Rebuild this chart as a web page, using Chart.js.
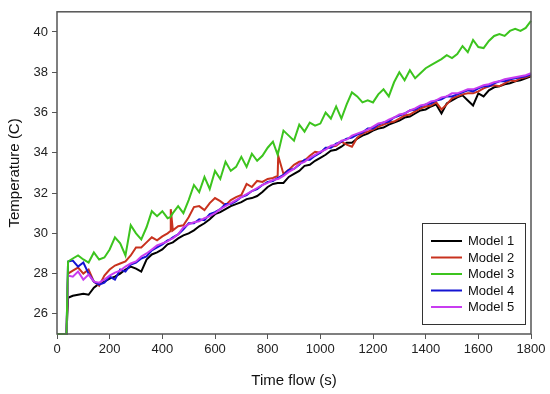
<!DOCTYPE html>
<html>
<head>
<meta charset="utf-8">
<script src="https://cdn.jsdelivr.net/npm/chart.js@4"></script>
<style>
  html, body { margin: 0; padding: 0; background: #fff; }
  #wrap { width: 550px; height: 394px; }
</style>
</head>
<body>
<div id="wrap"><canvas id="chart" width="550" height="394"></canvas></div>
<script>
// time axis (s)
const times = [0, 36, 42, 60, 80, 100, 120, 140, 160, 180,
  200, 220, 240, 260, 280, 300, 320, 340, 360, 380,
  400, 420, 430, 432, 440, 460, 480, 500, 520, 540,
  560, 580, 600, 620, 640, 660, 680, 700, 720, 740,
  760, 780, 800, 820, 838, 840, 860, 880, 900, 920,
  940, 960, 980, 1000, 1020, 1040, 1060, 1080, 1100, 1120,
  1140, 1160, 1180, 1200, 1220, 1240, 1260, 1280, 1300, 1320,
  1340, 1360, 1380, 1400, 1420, 1440, 1460, 1480, 1500, 1520,
  1540, 1560, 1580, 1600, 1620, 1640, 1660, 1680, 1700, 1720,
  1740, 1760, 1780, 1800];

const model1 = [25, 25, 26.8, 26.9, 26.95, 27.0, 26.95, 27.3, 27.5, 27.6,
  27.75, 27.85, 28.0, 28.2, 28.35, 28.25, 28.1, 28.7, 28.95, 29.05,
  29.2, 29.45, 29.5, 29.5, 29.55, 29.75, 29.9, 30.0, 30.15, 30.35,
  30.5, 30.7, 30.95, 31.05, 31.2, 31.35, 31.45, 31.55, 31.7, 31.75,
  31.85, 32.05, 32.3, 32.45, 32.5, 32.5, 32.5, 32.8, 32.95, 33.1,
  33.35, 33.4, 33.6, 33.75, 33.9, 34.1, 34.15, 34.3, 34.5, 34.5,
  34.7, 34.85, 34.95, 35.1, 35.2, 35.25, 35.4, 35.5, 35.6, 35.75,
  35.8, 35.95, 36.1, 36.15, 36.3, 36.4, 35.95, 36.45, 36.6, 36.75,
  36.85, 36.6, 36.35, 36.95, 36.8, 37.1, 37.25, 37.3, 37.4, 37.45,
  37.55, 37.6, 37.7, 37.8];

const model2 = [25, 25, 28.0, 28.15, 28.3, 28.0, 28.2, 27.6, 27.4, 27.9,
  28.2, 28.4, 28.5, 28.6, 28.9, 29.3, 29.3, 29.55, 29.8, 29.65,
  29.85, 30.0, 30.1, 31.2, 30.15, 30.35, 30.4, 30.8, 31.3, 31.35,
  31.15, 31.5, 31.75, 31.6, 31.4, 31.65, 31.8, 31.9, 32.45, 32.3,
  32.6, 32.55, 32.7, 32.75, 32.85, 33.85, 32.95, 33.15, 33.4, 33.55,
  33.6, 33.85, 34.05, 34.0, 34.2, 34.3, 34.35, 34.55, 34.4, 34.3,
  34.75, 34.95, 35.05, 35.15, 35.3, 35.4, 35.5, 35.55, 35.7, 35.85,
  35.9, 36.05, 36.2, 36.3, 36.35, 36.5, 36.15, 36.4, 36.7, 36.8,
  36.9, 36.95, 36.95, 37.05, 37.2, 37.3, 37.35, 37.3, 37.45, 37.6,
  37.55, 37.7, 37.75, 37.85];

const model3 = [25, 25, 28.6, 28.75, 28.9, 28.7, 28.55, 29.05, 28.7, 28.8,
  29.2, 29.8, 29.5, 28.9, 30.4, 30.0, 29.7, 30.3, 31.1, 30.85,
  31.1, 30.75, 30.8, 30.8, 31.0, 31.35, 31.0, 31.65, 32.4, 32.05,
  32.8, 32.2, 33.1, 32.7, 33.55, 33.1, 33.3, 33.8, 33.3, 33.95,
  33.6, 33.85, 34.25, 34.55, 33.9, 34.0, 35.1, 34.85, 34.6, 35.4,
  35.05, 35.5, 35.35, 35.45, 36.0, 35.7, 36.3, 35.7, 36.4, 37.0,
  36.8, 36.5, 36.6, 36.5, 36.9, 37.15, 36.8, 37.5, 38.0, 37.6,
  38.1, 37.7, 37.95, 38.2, 38.35, 38.5, 38.65, 38.85, 38.7, 38.9,
  39.3, 39.0, 39.6, 39.25, 39.2, 39.55, 39.8, 39.9, 39.8, 40.05,
  40.15, 40.05, 40.2, 40.55];

const model4 = [25, 25, 28.6, 28.65, 28.35, 28.55, 28.0, 27.6, 27.45, 27.55,
  27.85, 27.7, 28.2, 28.1, 28.45, 28.55, 28.75, 28.85, 29.15, 29.3,
  29.45, 29.65, 29.7, 29.7, 29.8, 29.95, 30.2, 30.5, 30.5, 30.7,
  30.65, 30.95, 31.05, 31.2, 31.45, 31.45, 31.6, 31.8, 31.9, 32.1,
  32.2, 32.4, 32.55, 32.6, 32.75, 32.75, 32.9, 33.15, 33.2, 33.4,
  33.65, 33.65, 33.85, 34.0, 34.25, 34.25, 34.45, 34.55, 34.7, 34.75,
  34.9, 35.0, 35.2, 35.2, 35.4, 35.5, 35.55, 35.75, 35.85, 35.95,
  36.1, 36.15, 36.3, 36.4, 36.45, 36.6, 36.65, 36.8, 36.8, 36.9,
  37.0, 37.1, 37.05, 37.2, 37.3, 37.3, 37.45, 37.55, 37.55, 37.65,
  37.7, 37.75, 37.8, 37.9];

const model5 = [25, 25, 27.9, 27.85, 28.1, 27.7, 27.95, 27.6, 27.55, 27.7,
  27.9, 28.05, 28.15, 28.35, 28.5, 28.6, 28.85, 29.0, 29.2, 29.4,
  29.5, 29.6, 29.7, 29.7, 29.75, 29.95, 30.3, 30.45, 30.55, 30.6,
  30.75, 30.85, 31.0, 31.2, 31.35, 31.5, 31.65, 31.8, 31.95, 32.1,
  32.25, 32.4, 32.5, 32.65, 32.7, 32.7, 32.85, 33.05, 33.2, 33.45,
  33.55, 33.75, 33.9, 34.05, 34.15, 34.35, 34.4, 34.6, 34.65, 34.85,
  34.95, 35.05, 35.15, 35.3, 35.45, 35.5, 35.65, 35.75, 35.9, 35.95,
  36.1, 36.2, 36.35, 36.4, 36.55, 36.6, 36.75, 36.8, 36.95, 36.95,
  37.05, 37.15, 37.15, 37.25, 37.35, 37.4, 37.5, 37.55, 37.65, 37.7,
  37.75, 37.8, 37.85, 37.95];

const labels = ['Model 1', 'Model 2', 'Model 3', 'Model 4', 'Model 5'];
const xTicks = [0, 200, 400, 600, 800, 1000, 1200, 1400, 1600, 1800];
const yTicks = [26, 28, 30, 32, 34, 36, 38, 40];

const colors = ['#000000', '#c8321e', '#3cc41e', '#1414d2', '#c83cf0'];
const drawOrder = [5, 4, 1, 3, 2]; // lower = drawn on top
const font = '"Liberation Sans", Arial, sans-serif';

const series = [model1, model2, model3, model4, model5];
const datasets = series.map((vals, i) => ({
  label: labels[i],
  data: vals.map((v, k) => ({ x: times[k], y: v })),
  borderColor: colors[i],
  borderWidth: 2,
  pointRadius: 0,
  tension: 0,
  fill: false,
  clip: 4,
  order: drawOrder[i]
}));

// frame around the plot area
const framePlugin = {
  id: 'frame',
  afterDatasetsDraw(chart) {
    const { ctx, chartArea: a } = chart;
    ctx.save();
    ctx.strokeStyle = '#555';
    ctx.lineWidth = 1.5;
    ctx.strokeRect(a.left, a.top, a.right - a.left, a.bottom - a.top);
    ctx.restore();
  }
};

// boxed legend inside the lower right corner
const boxLegend = {
  id: 'boxLegend',
  afterDraw(chart) {
    const ctx = chart.ctx;
    ctx.save();
    ctx.fillStyle = '#fff';
    ctx.fillRect(422, 223, 103, 101);
    ctx.strokeStyle = '#333';
    ctx.lineWidth = 1;
    ctx.strokeRect(422.5, 223.5, 103, 101);
    ctx.font = '13px ' + font;
    ctx.textBaseline = 'middle';
    chart.data.datasets.forEach((ds, i) => {
      const y = 241 + i * 16.5;
      ctx.strokeStyle = ds.borderColor;
      ctx.lineWidth = 2;
      ctx.beginPath();
      ctx.moveTo(431, y);
      ctx.lineTo(462, y);
      ctx.stroke();
      ctx.fillStyle = '#111';
      ctx.fillText(ds.label, 468, y + 0.5);
    });
    ctx.restore();
  }
};

new Chart(document.getElementById('chart').getContext('2d'), {
  type: 'line',
  data: { datasets: datasets },
  options: {
    responsive: false,
    animation: false,
    layout: { padding: { top: 4, right: 19, left: 0, bottom: 0 } },
    plugins: { legend: { display: false }, tooltip: { enabled: false } },
    scales: {
      x: {
        type: 'linear',
        min: 0,
        max: 1800,
        afterBuildTicks: s => { s.ticks = xTicks.map(v => ({ value: v })); },
        afterFit: s => { s.height = 60; },
        grid: { drawOnChartArea: false, drawTicks: true, tickLength: 5, color: '#555', lineWidth: 1 },
        border: { display: false },
        ticks: { font: { size: 13, family: font }, color: '#222', padding: 3, maxRotation: 0, autoSkip: false,
                 callback: v => String(v) },
        title: { display: true, text: 'Time flow (s)', font: { size: 15, family: font }, color: '#111', padding: { top: 0, bottom: 4 } }
      },
      y: {
        type: 'linear',
        min: 25,
        max: 41,
        afterBuildTicks: s => { s.ticks = yTicks.map(v => ({ value: v })); },
        afterFit: s => { s.width = 57; },
        grid: { drawOnChartArea: false, drawTicks: true, tickLength: 5, color: '#555', lineWidth: 1 },
        border: { display: false },
        ticks: { font: { size: 13, family: font }, color: '#222', padding: 4, callback: v => String(v) },
        title: { display: true, text: 'Temperature (C)', font: { size: 15, family: font }, color: '#111', padding: { top: 6, bottom: 0 } }
      }
    }
  },
  plugins: [framePlugin, boxLegend]
});
</script>
</body>
</html>
